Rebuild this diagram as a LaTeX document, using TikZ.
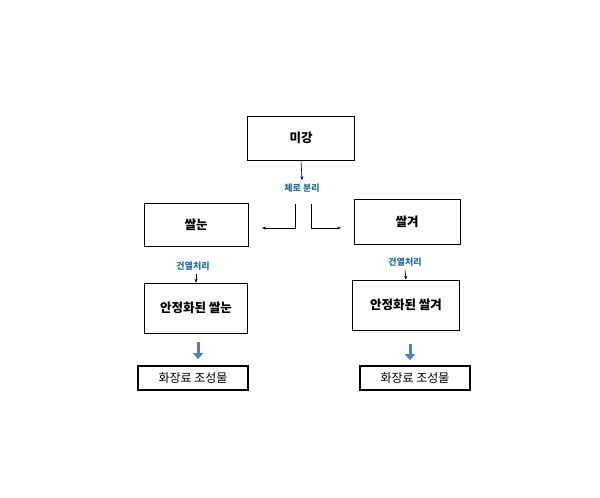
\documentclass[tikz,border=0pt]{standalone}
\usepackage{fontspec}
\setmainfont{Noto Sans CJK KR}
\usetikzlibrary{positioning,arrows.meta,calc}
\definecolor{labelblue}{HTML}{1F6FA8}
\definecolor{arrowblue}{HTML}{4F81BD}
\begin{document}
\begin{tikzpicture}[x=1pt,y=-1pt]
	\tikzset{process/.style={rectangle, draw=black, semithick, text centered, font=\fontsize{12.5}{14}\selectfont\bfseries},
		result/.style={rectangle, draw=black, line width=1.6pt, text centered, minimum width=110pt, minimum height=24pt, font=\fontsize{12}{14}\selectfont},
		steplabel/.style={text=labelblue, font=\fontsize{9}{11}\selectfont\bfseries},
		thinarrow/.style={-{Stealth[length=4pt]}, semithick},
		bigarrow/.style={-{Triangle[length=6pt,width=10pt]}, arrowblue, line width=3pt}}
	\useasboundingbox (0,0) rectangle (600,498);
	\node (rice) [process, minimum width=107pt, minimum height=44pt] at (301,138) {미강};
	\node (sep) [steplabel] at (302,188) {체로 분리};
	\node (germ) [process, minimum width=104pt, minimum height=43pt] at (196,225) {쌀눈};
	\node (bran) [process, minimum width=106pt, minimum height=45pt] at (407,222) {쌀겨};
	\node (heatL) [steplabel] at (193,266) {건열처리};
	\node (heatR) [steplabel] at (405,262) {건열처리};
	\node (stgerm) [process, minimum width=103pt, minimum height=50pt] at (196,308) {안정화된 쌀눈};
	\node (stbran) [process, minimum width=107pt, minimum height=50pt] at (406,305) {안정화된 쌀겨};
	\node (cosL) [result] at (193,378) {화장료 조성물};
	\node (cosR) [result] at (415,378) {화장료 조성물};
	\coordinate (toL) at (262,228);
	\coordinate (toR) at (341,228);

	\draw [thinarrow] (rice.south) -- (sep.north);
	\draw [thinarrow] (295,204) |- (toL);
	\draw [thinarrow] (311,204) |- (toR);
	\draw [thinarrow] (heatL.south -| stgerm.north) -- (stgerm.north);
	\draw [thinarrow] (heatR.south) -- (stbran.north);
	\draw [bigarrow] ($(stgerm.south)+(2,9)$) -- ($(cosL.north)+(5,-6)$);
	\draw [bigarrow] ($(stbran.south)+(4,14)$) -- ($(cosR.north)+(-5,-5)$);
\end{tikzpicture}
\end{document}
